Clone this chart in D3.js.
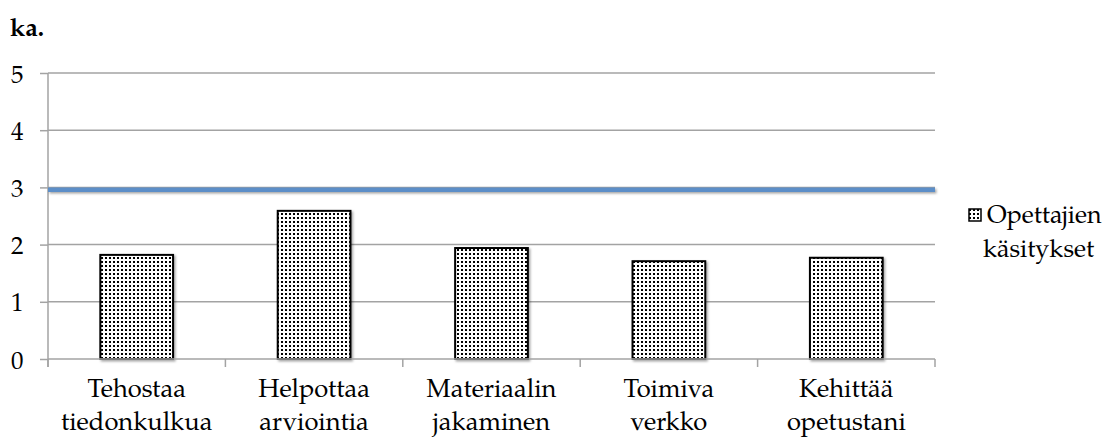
<!DOCTYPE html>
<html>
<head>
<meta charset="utf-8">
<script src="https://cdn.jsdelivr.net/npm/d3@7"></script>
<style>
  html, body { margin: 0; padding: 0; background: #fff; }
  svg { display: block; }
</style>
</head>
<body>
<svg id="chart" width="1111" height="438"></svg>
<script>
// Category labels (two lines each)
const categories = [
  ["Tehostaa", "tiedonkulkua"],
  ["Helpottaa", "arviointia"],
  ["Materiaalin", "jakaminen"],
  ["Toimiva", "verkko"],
  ["Kehittää", "opetustani"]
];
// Mean scores of teachers' perceptions
const values = [1.82, 2.59, 1.94, 1.71, 1.77];
// Reference mean shown as horizontal line
const referenceValue = 2.96;
const yTicks = [0, 1, 2, 3, 4, 5];
const seriesName = ["Opettajien", "käsitykset"];
const yTitle = "ka.";

const FONT = '"TeX Gyre Pagella", "Liberation Serif", serif';
const svg = d3.select("#chart");
const margin = { left: 48, right: 176, top: 73, bottom: 79 };
const W = 1111, H = 438;
const x0 = margin.left, x1 = W - margin.right;
const y0 = H - margin.bottom, y1 = margin.top;

const keys = categories.map((d, i) => i);
const x = d3.scaleBand().domain(keys).range([x0, x1]).paddingInner(0.59).paddingOuter(0.295);
const xBand = d3.scaleBand().domain(keys).range([x0, x1]);
const y = d3.scaleLinear().domain([0, 5]).range([y0, y1]);

// Dotted fill pattern
const defs = svg.append("defs");
const pat = defs.append("pattern")
  .attr("id", "dots").attr("patternUnits", "userSpaceOnUse")
  .attr("width", 4).attr("height", 4);
pat.append("rect").attr("width", 4).attr("height", 4).attr("fill", "#fff");
pat.append("rect").attr("x", 1).attr("y", 1).attr("width", 2).attr("height", 2).attr("fill", "#000");

const shadow = defs.append("filter").attr("id", "shadow")
  .attr("filterUnits", "userSpaceOnUse")
  .attr("x", 0).attr("y", 0).attr("width", W).attr("height", H);
shadow.append("feDropShadow").attr("dx", 1.5).attr("dy", 1.5).attr("stdDeviation", 1)
  .attr("flood-color", "#000").attr("flood-opacity", 0.35);

// Gridlines
svg.append("g")
  .selectAll("line").data(yTicks.filter(t => t > 0)).join("line")
  .attr("x1", x0).attr("x2", x1)
  .attr("y1", d => y(d)).attr("y2", d => y(d))
  .attr("stroke", "#a3a3a3").attr("stroke-width", 1.5);

// Y axis
const yAxis = svg.append("g").attr("transform", `translate(${x0},0)`)
  .call(d3.axisLeft(y).tickValues(yTicks).tickSize(8).tickFormat(d3.format("d")));
yAxis.select(".domain").attr("stroke", "#a3a3a3").attr("stroke-width", 1.5).attr("d", `M-0,${y0 + 8}V${y1}`);
yAxis.selectAll(".tick line").attr("stroke", "#a3a3a3").attr("stroke-width", 1.5);
yAxis.selectAll(".tick text")
  .style("font-family", FONT).style("font-size", "25px").style("fill", "#000")
  .attr("text-anchor", "start").attr("x", -37).attr("dy", "0.36em");

// Bars
svg.append("g")
  .selectAll("rect").data(values).join("rect")
  .attr("x", (d, i) => x(i))
  .attr("width", x.bandwidth())
  .attr("y", d => y(d))
  .attr("height", d => y0 - y(d))
  .attr("fill", "url(#dots)")
  .attr("stroke", "#000").attr("stroke-width", 2)
  .attr("filter", "url(#shadow)");

// X axis
const xAxis = svg.append("g").attr("transform", `translate(0,${y0})`);
xAxis.append("line").attr("x1", x0).attr("x2", x1).attr("y1", 0).attr("y2", 0)
  .attr("stroke", "#a3a3a3").attr("stroke-width", 1.5);
const boundaries = keys.map(k => xBand(k)).concat([x1]);
xAxis.selectAll("line.tk").data(boundaries).join("line").attr("class", "tk")
  .attr("x1", d => d).attr("x2", d => d).attr("y1", 0).attr("y2", 8)
  .attr("stroke", "#a3a3a3").attr("stroke-width", 1.5);
const lbl = xAxis.selectAll("text.cat").data(categories).join("text").attr("class", "cat")
  .attr("text-anchor", "middle")
  .style("font-family", FONT).style("font-size", "25.5px").style("fill", "#000")
  .attr("x", (d, i) => xBand(i) + xBand.bandwidth() / 2);
lbl.each(function(d) {
  const t = d3.select(this);
  d.forEach((line, j) => t.append("tspan").attr("x", t.attr("x")).attr("y", 38 + j * 33).text(line));
});

// Reference line
svg.append("line")
  .attr("x1", x0).attr("x2", x1)
  .attr("y1", y(referenceValue)).attr("y2", y(referenceValue))
  .attr("stroke", "#5b8ec8").attr("stroke-width", 4.5)
  .attr("filter", "url(#shadow)");

// Axis title
svg.append("text").attr("x", 10).attr("y", 36)
  .style("font-family", FONT).style("font-size", "25px").style("font-weight", "bold")
  .text(yTitle);

// Legend
const lg = svg.append("g");
lg.append("rect").attr("x", 969).attr("y", 209).attr("width", 12).attr("height", 12)
  .attr("fill", "url(#dots)").attr("stroke", "#000").attr("stroke-width", 1.5);
lg.append("text").attr("x", 987).attr("y", 223)
  .style("font-family", FONT).style("font-size", "25px").text(seriesName[0]);
lg.append("text").attr("x", 983).attr("y", 257)
  .style("font-family", FONT).style("font-size", "25px").text(seriesName[1]);
</script>
</body>
</html>
